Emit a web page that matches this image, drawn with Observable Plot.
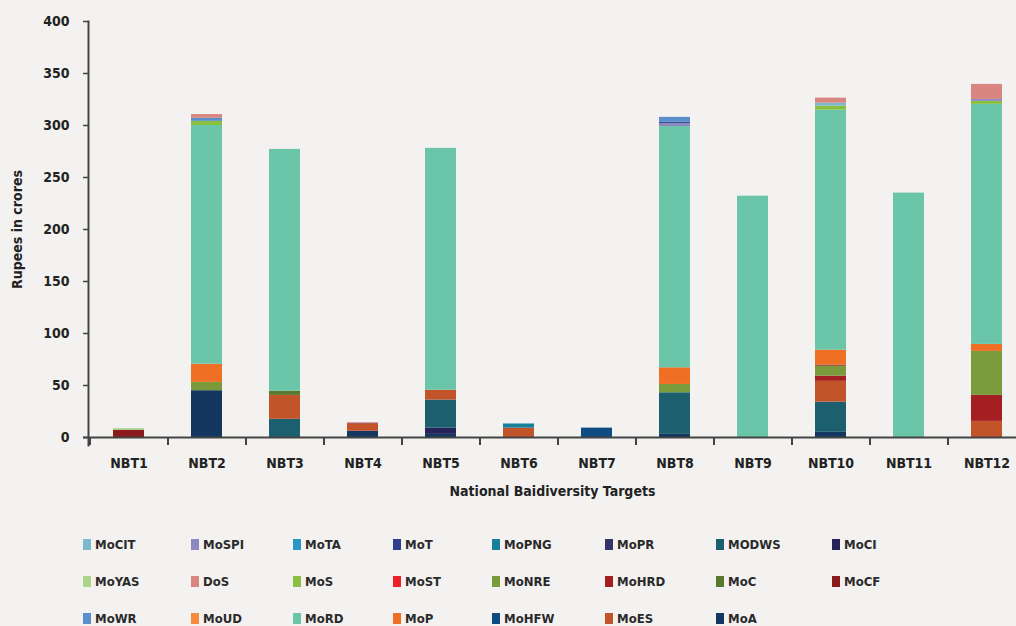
<!DOCTYPE html>
<html><head><meta charset="utf-8">
<script src="https://cdn.jsdelivr.net/npm/d3@7"></script>
<script src="https://cdn.jsdelivr.net/npm/@observablehq/plot@0.6"></script>
<style>
html,body{margin:0;background:#f3f2f0;}
body{font-family:"Liberation Sans Narrow","DejaVu Sans Condensed",sans-serif;width:1016px;height:626px;overflow:hidden;}
#chart svg{display:block;}
.legend{display:grid;grid-template-columns:108px 102px 100px 99px 113px 111px 116px 150px;grid-auto-rows:37px;padding-left:83px;padding-top:6px;}
.item{display:flex;align-items:center;font-size:13px;font-weight:bold;color:#2a2a2a;}
.sw{width:8px;height:11px;margin-right:4px;flex:none;}
</style></head>
<body>
<div id="chart"></div>
<div id="legend" class="legend"></div>
<script>
const categories = ["NBT1","NBT2","NBT3","NBT4","NBT5","NBT6","NBT7","NBT8","NBT9","NBT10","NBT11","NBT12"];
const yTicks = [0,50,100,150,200,250,300,350,400];

// legend order (row-major) and colours
const legendNames  = ["MoCIT","MoSPI","MoTA","MoT","MoPNG","MoPR","MODWS","MoCI",
                      "MoYAS","DoS","MoS","MoST","MoNRE","MoHRD","MoC","MoCF",
                      "MoWR","MoUD","MoRD","MoP","MoHFW","MoES","MoA"];
const legendColors = ["#7db8cc","#8e88c0","#2c95c6","#2e3f8e","#17809b","#36346a","#1c5f6f","#27235a",
                      "#add58a","#d8867f","#8abf40","#ec2127","#7a9a3c","#a41e22","#587a30","#8b1a1d",
                      "#5a8fcc","#f58b3c","#6bc5a8","#ef7024","#0f4c81","#c2542a","#133760"];

// stacking order, bottom to top
const stackOrder = ["MoA","MoHFW","MoCI","MoPR","MODWS","MoES","MoHRD","MoNRE","MoC","MoCF","MoST","MoP","MoUD","MoRD",
                    "MoPNG","MoS","MoYAS","MoSPI","MoT","MoCIT","MoWR","MoTA","DoS"];

// values (Rupees in crores) per series, NBT1..NBT12
const MoA   = [0, 45, 0, 6, 3, 0, 0, 3, 0, 5, 0, 0];
const MoHFW = [0, 0, 0, 0, 0, 0, 9, 0, 0, 0, 0, 0];
const MoCI  = [0, 0, 0, 0, 6, 0, 0, 0, 0, 0, 0, 0];
const MoPR  = [0, 0, 0, 0, 0, 0, 0, 0, 0, 0, 0, 0];
const MODWS = [0, 0, 17.5, 0, 27, 0, 0, 40, 0, 29, 0, 0];
const MoES  = [0, 0, 23, 7, 9.5, 9, 0, 0, 0, 20, 0, 15.5];
const MoHRD = [0, 0, 0, 0, 0, 0, 0, 0, 0, 5, 0, 25];
const MoNRE = [0, 8, 0, 0, 0, 0, 0, 8, 0, 9.6, 0, 42.3];
const MoC   = [0, 0, 4, 0, 0, 0, 0, 0, 0, 0, 0, 0];
const MoCF  = [7, 0, 0, 0.8, 0, 0, 0, 0, 0, 1, 0, 0];
const MoST  = [0, 0, 0, 0, 0, 0, 0, 0, 0, 0, 0, 0];
const MoP   = [0, 17.5, 0, 0, 0, 0, 0, 16, 0, 14.4, 0, 6.7];
const MoUD  = [0, 0, 0, 0, 0, 0, 0, 0, 0, 0, 0, 0];
const MoRD  = [0, 229.5, 232.5, 0, 232.5, 0, 0, 232, 232, 230.8, 235, 230.8];
const MoPNG = [0, 0, 0, 0, 0, 4, 0, 0, 0, 0, 0, 0];
const MoS   = [0, 4, 0, 0, 0, 0, 0, 0, 0, 3.8, 0, 2.9];
const MoYAS = [1.5, 0, 0, 0, 0, 0, 0, 0, 0, 0, 0, 0];
const MoSPI = [0, 0, 0, 0, 0, 0, 0, 3, 0, 0, 0, 1.9];
const MoT   = [0, 0, 0, 0, 0, 0, 0, 1, 0, 0, 0, 0];
const MoCIT = [0, 0, 0, 0, 0, 0, 0, 0, 0, 2.9, 0, 0];
const MoWR  = [0, 3, 0, 0, 0, 0, 0, 4.8, 0, 0, 0, 0];
const MoTA  = [0, 0, 0, 0, 0, 0, 0, 0, 0, 0, 0, 0];
const DoS   = [0, 3.5, 0, 0, 0, 0, 0, 0, 0, 4.8, 0, 14.4];

const seriesValues = {MoA, MoHFW, MoCI, MoPR, MODWS, MoES, MoHRD, MoNRE, MoC, MoCF, MoST, MoP, MoUD, MoRD,
                      MoPNG, MoS, MoYAS, MoSPI, MoT, MoCIT, MoWR, MoTA, DoS};

const rows = [];
stackOrder.forEach(s => {
  seriesValues[s].forEach((v, i) => { if (v > 0) rows.push({cat: categories[i], agency: s, value: v}); });
});

const font = '"Liberation Sans Narrow","DejaVu Sans Condensed",sans-serif';
const axisColor = "#444";

const chart = Plot.plot({
  width: 1016, height: 520,
  marginLeft: 88, marginRight: 0, marginTop: 21, marginBottom: 83,
  style: {background: "transparent", fontFamily: font, fontSize: "14px", fontWeight: "bold", color: "#222"},
  x: {domain: categories, range: [89.5, 1025.5], paddingInner: 0.6, paddingOuter: 0.3, label: null},
  y: {domain: [0, 400], label: null},
  color: {domain: legendNames, range: legendColors},
  marks: [
    Plot.barY(rows, {x: "cat", y: "value", fill: "agency", order: null}),
    Plot.ruleY([0], {stroke: axisColor, strokeWidth: 2, insetLeft: -5}),
    Plot.frame({anchor: "left", stroke: axisColor, strokeWidth: 2, insetBottom: -8}),
    Plot.ruleX(categories, {x: d => d, dx: -39, y1: 0, y2: 0, insetTop: 8, stroke: axisColor, strokeWidth: 2}),
    Plot.axisY({ticks: yTicks, tickSize: 5, tickPadding: 14, stroke: axisColor, strokeWidth: 1.5,
                label: "Rupees in crores", labelAnchor: "center", labelArrow: "none", labelOffset: 76}),
    Plot.axisX({tickSize: 0, tickPadding: 21, label: "National Baidiversity Targets",
                labelAnchor: "center", labelArrow: "none", labelOffset: 58})
  ]
});
document.getElementById("chart").append(chart);

const legend = document.getElementById("legend");
legendNames.forEach((n, i) => {
  const it = document.createElement("div");
  it.className = "item";
  const sw = document.createElement("span");
  sw.className = "sw";
  sw.style.background = legendColors[i];
  it.append(sw, document.createTextNode(n));
  legend.append(it);
});
</script>
</body></html>
